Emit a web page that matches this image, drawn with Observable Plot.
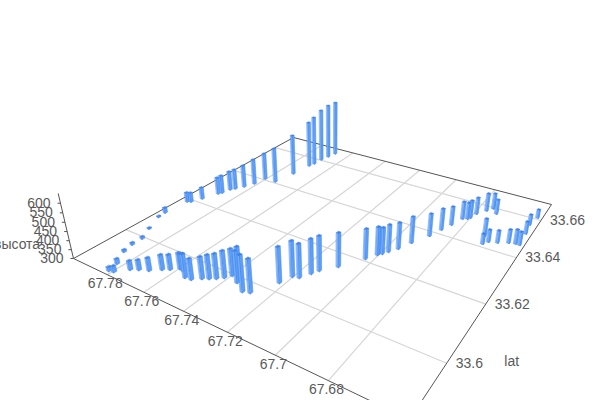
<!DOCTYPE html><html><head><meta charset="utf-8">
<script src="https://cdn.jsdelivr.net/npm/d3@7"></script>
<script src="https://cdn.jsdelivr.net/npm/@observablehq/plot@0.6"></script>
<style>html,body{margin:0;background:#fff}svg{display:block}</style></head><body>
<script>
// DATA
const lons=[67.7815,67.7793,67.7827,67.7752,67.7723,67.7686,67.7649,67.7624,67.7596,67.7577,67.7538,67.7510,67.7480,67.7457,67.7435,67.7414,67.7398,67.7353,67.7355,67.7301,67.7273,67.7221,67.7203,67.7177,67.7154,67.7139,
67.7092,67.7031,67.7005,67.7005,67.6992,67.6978,67.6955,67.6930,67.6890,67.6868,67.6848,67.6827,67.6809,67.6801,67.6791,67.6763,67.6743,67.6716,67.6695,67.6680,67.6665,67.6631,67.6592,67.6566,67.6549,67.6554,
67.6562,67.6550,67.7923,67.7964,67.7886,67.7885,67.7871,67.7969,67.7960,67.7944,67.7922,67.7893,67.7884,67.7873,67.7859,67.7837,67.7816,67.7805,67.7743,67.7721,67.7707,67.7699,67.7696,67.7686,67.7676];
const lats=[33.5863,33.5866,33.5891,33.5891,33.5901,33.5911,33.5929,33.5939,33.5953,33.5951,33.5935,33.5937,33.5952,33.5960,33.5969,33.5981,33.5996,33.5982,33.5990,33.5964,33.5970,33.6031,33.6064,33.6069,33.6095,33.6114,
33.6150,33.6210,33.6239,33.6244,33.6249,33.6264,33.6288,33.6328,33.6380,33.6422,33.6458,33.6501,33.6508,33.6517,33.6545,33.6575,33.6595,33.6573,33.6453,33.6416,33.6432,33.6440,33.6454,33.6459,33.6459,33.6517,
33.6565,33.6611,33.6035,33.6088,33.5994,33.5963,33.5932,33.6113,33.6187,33.6192,33.6221,33.6266,33.6276,33.6302,33.6314,33.6337,33.6367,33.6408,33.6409,33.6479,33.6549,33.6569,33.6605,33.6635,33.6666];
const alts=[322,333,328,350,356,372,383,383,389,394,430,414,419,430,435,446,446,471,482,494,479,492,493,483,489,490,
486,467,457,447,447,453,448,450,429,424,408,403,397,404,398,405,393,386,400,358,370,370,376,381,375,371,
360,349,306,306,312,312,312,331,357,357,370,402,409,416,423,436,456,465,514,551,589,610,633,648,651];
const lonTicks=[67.68,67.7,67.72,67.74,67.76,67.78];
const latTicks=[33.6,33.62,33.64,33.66];
const altTicks=[300,350,400,450,500,550,600];
const lonRange=[67.653,67.80], latRange=[33.585,33.670], altRange=[300,650];

// view: where the floor corners and the vertical vanishing point sit in the picture
const L=[73,258],F=[409,419],R=[551,204],B=[293,137],Vv=[330,1350],kz=-0.0562;
const dx1=F[0]-R[0],dx2=B[0]-R[0],sx=L[0]-F[0]+R[0]-B[0],dy1=F[1]-R[1],dy2=B[1]-R[1],sy=L[1]-F[1]+R[1]-B[1],den=dx1*dy2-dx2*dy1;
const G=(sx*dy2-dx2*sy)/den,H=(dx1*sy-sx*dy1)/den,
 A=F[0]-L[0]+G*F[0],Bb=B[0]-L[0]+H*B[0],C=L[0],D=F[1]-L[1]+G*F[1],E=B[1]-L[1]+H*B[1],Ff=L[1];
function proj(lon,lat,alt=300){
  const u=(lonRange[1]-lon)/(lonRange[1]-lonRange[0]),v=(lat-latRange[0])/(latRange[1]-latRange[0]),t=(alt-altRange[0])/(altRange[1]-altRange[0]);
  const w=G*u+H*v+1+t*kz;
  return {x:(A*u+Bb*v+C+t*kz*Vv[0])/w,y:(D*u+E*v+Ff+t*kz*Vv[1])/w,w};
}
const hu=0.00055,hv=0.0004; // half bar footprint in degrees

const bars=lons.map((lon,i)=>({lon,lat:lats[i],alt:alts[i]}));
const sortKey=bars.slice().sort((a,b)=>proj(a.lon,a.lat).y-proj(b.lon,b.lat).y);
const faces=[];
sortKey.forEach((b,i)=>{
  const c=(sl,st,al)=>proj(b.lon+sl*hu,b.lat+st*hv,al);
  const poly=(pts,fill,n)=>pts.forEach(p=>faces.push({id:i+"-"+n,fill,x:p.x,y:p.y}));
  // the two faces turned to the viewer, then the cap
  poly([c(1,-1,300),c(-1,-1,300),c(-1,-1,b.alt),c(1,-1,b.alt)],"#74aefa","a");
  poly([c(-1,-1,300),c(-1,1,300),c(-1,1,b.alt),c(-1,-1,b.alt)],"#5f9ef6","b");
  poly([c(1,-1,b.alt),c(-1,-1,b.alt),c(-1,1,b.alt),c(1,1,b.alt)],"#3f80e8","c");
});
const seg=(a,b)=>({x1:a.x,y1:a.y,x2:b.x,y2:b.y});
const gridLines=[...lonTicks.map(l=>seg(proj(l,latRange[0]),proj(l,latRange[1]))),...latTicks.map(l=>seg(proj(lonRange[0],l),proj(lonRange[1],l)))];
const axisLines=[seg(proj(lonRange[1],latRange[0]),proj(lonRange[1],latRange[1])),seg(proj(lonRange[1],latRange[1]),proj(lonRange[0],latRange[1])),seg(proj(lonRange[1],latRange[0]),proj(lonRange[0],latRange[0])),seg(proj(lonRange[0],latRange[0]),proj(lonRange[0],latRange[1])),seg(proj(lonRange[1],latRange[0]),proj(lonRange[1],latRange[0],altRange[1]))];
const altTickMarks=altTicks.map(a=>{const p=proj(lonRange[1],latRange[0],a);return {x1:p.x,y1:p.y,x2:p.x-3,y2:p.y};});
const txt={fontSize:14,fill:"#5a5a5a"};
const plot=Plot.plot({width:600,height:400,margin:0,
 x:{domain:[0,600],range:[0,600],axis:null},y:{domain:[0,400],range:[0,400],axis:null},
 color:{type:"identity"},
 style:{fontFamily:"'Liberation Sans',Arial,sans-serif",background:"#fff"},
 marks:[
  Plot.link(gridLines,{x1:"x1",y1:"y1",x2:"x2",y2:"y2",stroke:"#d6d6d6",strokeWidth:1.2}),
  Plot.link(axisLines,{x1:"x1",y1:"y1",x2:"x2",y2:"y2",stroke:"#555",strokeWidth:1}),
  Plot.link(altTickMarks,{x1:"x1",y1:"y1",x2:"x2",y2:"y2",stroke:"#555",strokeWidth:1}),
  Plot.line(faces,{x:"x",y:"y",z:"id",fill:"fill",stroke:"#3f84ec",strokeWidth:0.5,curve:"linear-closed"}),
  Plot.text(lonTicks,{x:d=>proj(d,latRange[0]).x,y:d=>proj(d,latRange[0]).y,text:d=>String(d),dx:-2,dy:9,...txt}),
  Plot.text(latTicks,{x:d=>proj(lonRange[0],d).x,y:d=>proj(lonRange[0],d).y,text:d=>String(d),dx:9,dy:0,textAnchor:"start",...txt}),
  Plot.text(altTicks,{x:d=>proj(lonRange[1],latRange[0],d).x,y:d=>proj(lonRange[1],latRange[0],d).y,text:d=>String(d),dx:-10,textAnchor:"end",...txt}),
  Plot.text(["высота"],{x:()=>proj(lonRange[1],latRange[0],450).x,y:()=>proj(lonRange[1],latRange[0],450).y,dx:-27,dy:13,textAnchor:"end",...txt}),
  Plot.text(["lat"],{x:()=>proj(lonRange[0],33.6).x,y:()=>proj(lonRange[0],33.6).y,dx:65,dy:-2,textAnchor:"middle",...txt})
 ]});
document.body.append(plot);
</script></body></html>
